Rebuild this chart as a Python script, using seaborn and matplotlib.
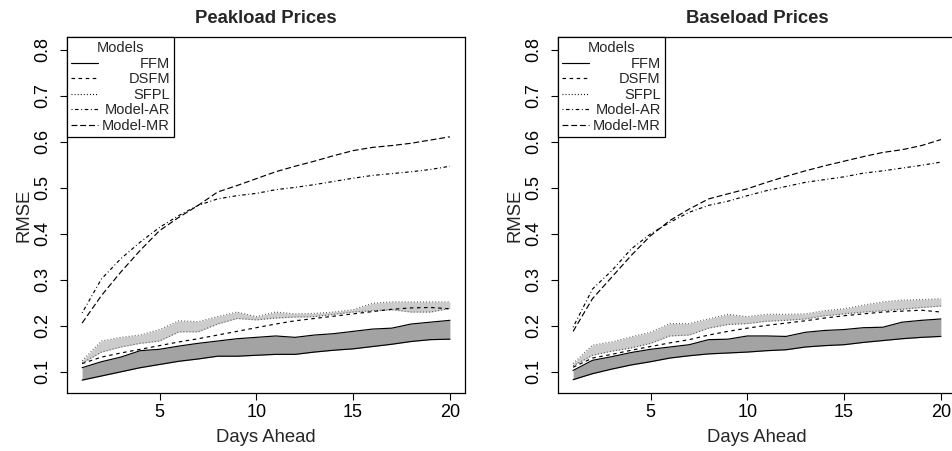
import numpy as np
import pandas as pd
import matplotlib
matplotlib.use("Agg")
import matplotlib.pyplot as plt
import seaborn as sns
from matplotlib.lines import Line2D

days = list(range(1, 21))

peak_ffm_lo = [0.082,0.091,0.100,0.109,0.116,0.123,0.128,0.134,0.134,0.136,0.138,0.138,0.143,0.147,0.150,0.155,0.160,0.166,0.170,0.171]
peak_ffm_hi = [0.109,0.122,0.132,0.146,0.149,0.156,0.162,0.167,0.172,0.175,0.178,0.175,0.180,0.183,0.188,0.193,0.195,0.204,0.208,0.212]
peak_sfpl_lo = [0.119,0.143,0.154,0.162,0.167,0.187,0.187,0.204,0.216,0.213,0.217,0.219,0.220,0.225,0.230,0.233,0.235,0.230,0.230,0.238]
peak_sfpl_hi = [0.124,0.167,0.175,0.180,0.192,0.211,0.209,0.220,0.230,0.220,0.230,0.226,0.227,0.230,0.235,0.249,0.252,0.252,0.252,0.252]
peak_dsfm = [0.118,0.132,0.141,0.149,0.157,0.165,0.172,0.180,0.188,0.196,0.204,0.211,0.216,0.221,0.226,0.231,0.236,0.239,0.240,0.237]
peak_ar = [0.228,0.302,0.346,0.382,0.414,0.440,0.462,0.476,0.483,0.488,0.496,0.501,0.507,0.514,0.521,0.527,0.531,0.535,0.540,0.547]
peak_mr = [0.206,0.266,0.317,0.364,0.407,0.436,0.462,0.491,0.505,0.520,0.535,0.547,0.558,0.570,0.581,0.588,0.592,0.597,0.604,0.611]

base_ffm_lo = [0.083,0.096,0.106,0.115,0.122,0.130,0.135,0.139,0.141,0.143,0.146,0.148,0.154,0.157,0.159,0.164,0.168,0.172,0.175,0.177]
base_ffm_hi = [0.103,0.125,0.133,0.142,0.149,0.154,0.159,0.170,0.171,0.178,0.178,0.177,0.186,0.190,0.192,0.196,0.197,0.208,0.212,0.215]
base_sfpl_lo = [0.113,0.136,0.145,0.152,0.162,0.178,0.180,0.195,0.203,0.205,0.210,0.212,0.215,0.222,0.226,0.230,0.233,0.236,0.240,0.243]
base_sfpl_hi = [0.118,0.158,0.165,0.176,0.186,0.205,0.205,0.215,0.225,0.220,0.225,0.225,0.226,0.233,0.237,0.245,0.252,0.256,0.257,0.259]
base_dsfm = [0.110,0.130,0.138,0.147,0.155,0.163,0.170,0.180,0.188,0.195,0.201,0.206,0.211,0.217,0.222,0.226,0.230,0.232,0.234,0.230]
base_ar = [0.197,0.280,0.320,0.367,0.400,0.425,0.447,0.462,0.471,0.483,0.494,0.503,0.512,0.518,0.524,0.532,0.537,0.543,0.549,0.556]
base_mr = [0.188,0.259,0.306,0.353,0.396,0.429,0.454,0.476,0.487,0.498,0.512,0.525,0.537,0.548,0.558,0.568,0.577,0.583,0.592,0.605]

titles = ["Peakload Prices", "Baseload Prices"]
model_names = ["FFM", "DSFM", "SFPL", "Model-AR", "Model-MR"]
legend_title = "Models"
x_ticks = [5, 10, 15, 20]
y_ticks = [0.1, 0.2, 0.3, 0.4, 0.5, 0.6, 0.7, 0.8]

sns.set_style("white")
plt.rcParams["font.family"] = ["Liberation Sans", "DejaVu Sans"]

LS = {
    "FFM": "-",
    "DSFM": (0, (3.0, 3.0)),
    "SFPL": (0, (0.8, 1.8)),
    "Model-AR": (0, (0.8, 2.2, 3.0, 2.2)),
    "Model-MR": (0, (5.0, 2.4)),
}
LW = 0.85
FFM_FILL = "#a3a3a3"
SFPL_FILL = "#cccccc"

fig = plt.figure(figsize=(9.52, 4.51), dpi=100)
W, H = 952.0, 451.0
ax_w = 398 / W
ax_h = (393 - 37) / H
ax1 = fig.add_axes([67 / W, 1 - 393 / H, ax_w, ax_h])
ax2 = fig.add_axes([558 / W, 1 - 393 / H, ax_w, ax_h])

panels = [
    (ax1, peak_ffm_lo, peak_ffm_hi, peak_sfpl_lo, peak_sfpl_hi, peak_dsfm, peak_ar, peak_mr),
    (ax2, base_ffm_lo, base_ffm_hi, base_sfpl_lo, base_sfpl_hi, base_dsfm, base_ar, base_mr),
]

legends = []
for i, (ax, flo, fhi, slo, shi, dsfm, ar, mr) in enumerate(panels):
    ax.fill_between(days, slo, shi, color=SFPL_FILL, lw=0, zorder=1)
    ax.fill_between(days, flo, fhi, color=FFM_FILL, lw=0, zorder=1)
    for arr in (slo, shi):
        sns.lineplot(x=days, y=arr, ax=ax, color="#555555", lw=LW, linestyle=LS["SFPL"], zorder=2, legend=False)
    for arr in (flo, fhi):
        sns.lineplot(x=days, y=arr, ax=ax, color="black", lw=LW, linestyle=LS["FFM"], zorder=3, legend=False)
    sns.lineplot(x=days, y=dsfm, ax=ax, color="black", lw=LW, linestyle=LS["DSFM"], zorder=3, legend=False)
    sns.lineplot(x=days, y=ar, ax=ax, color="black", lw=LW, linestyle=LS["Model-AR"], zorder=3, legend=False)
    sns.lineplot(x=days, y=mr, ax=ax, color="black", lw=LW, linestyle=LS["Model-MR"], zorder=3, legend=False)

    ax.set_xlim(0.22, 20.78)
    ax.set_ylim(0.054, 0.828)
    ax.set_xticks(x_ticks)
    ax.set_yticks(y_ticks)
    ax.set_yticklabels([f"{v:.1f}" for v in y_ticks], rotation=90, va="center")
    ax.tick_params(axis="both", direction="out", length=5, width=0.8, labelsize=13, colors="black")
    ax.tick_params(axis="x", pad=3)
    ax.tick_params(axis="y", pad=6)
    ax.tick_params(axis="both", left=True, bottom=True)
    for s in ax.spines.values():
        s.set_visible(True)
        s.set_color("black")
        s.set_linewidth(0.9)
    ax.set_title(titles[i], fontsize=13.3, fontweight="bold", pad=10)
    ax.set_xlabel("Days Ahead", fontsize=13.3)
    ax.set_ylabel("RMSE", fontsize=13.3)
    ax.xaxis.set_label_coords(0.5, -45 / 356)
    ax.xaxis.label.set_va("center")
    ax.yaxis.set_label_coords(-43 / 398, 0.5)
    ax.yaxis.label.set_va("center")

    handles = [Line2D([0], [0], color="black", lw=LW, linestyle=LS[m]) for m in model_names]
    leg = ax.legend(handles, model_names, title=legend_title, loc="upper left",
                    bbox_to_anchor=(0, 1), borderaxespad=0, fancybox=False,
                    edgecolor="black", framealpha=1, fontsize=10.5, title_fontsize=10.5,
                    handlelength=1.8, handletextpad=0.3, labelspacing=0.1,
                    borderpad=0.3)
    leg.get_frame().set_linewidth(0.9)
    legends.append(leg)

fig.canvas.draw()
renderer = fig.canvas.get_renderer()
for leg in legends:
    widths = [t.get_window_extent(renderer).width for t in leg.get_texts()]
    shift = max(widths)
    for t, w in zip(leg.get_texts(), widths):
        t.set_position((shift - w, 0))

fig.savefig("out.png", dpi=100)
